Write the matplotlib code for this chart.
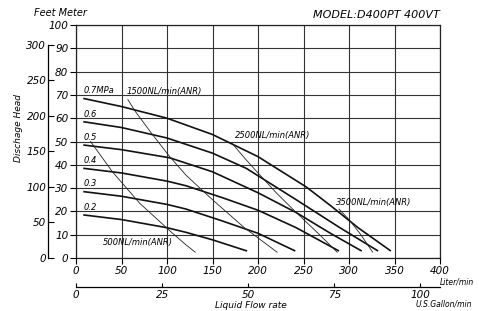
import numpy as np
import matplotlib
matplotlib.use('Agg')
import matplotlib.pyplot as plt

plt.rcParams['font.family'] = 'DejaVu Sans'
plt.rcParams['font.style'] = 'italic'

# air pressure curves: flow (L/min) vs discharge head (m)
p_labels = ['0.7MPa', '0.6', '0.5', '0.4', '0.3', '0.2']
p_label_y = [70.7, 60.7, 50.7, 40.7, 30.7, 20.7]
p_flow = [
    [8, 50, 100, 150, 200, 253, 279, 310, 346],
    [8, 50, 100, 150, 187, 242, 290, 332],
    [8, 50, 103, 150, 200, 242, 280, 314],
    [8, 50, 100, 121, 160, 200, 242, 289],
    [8, 50, 100, 121, 160, 200, 241],
    [8, 50, 100, 121, 150, 188],
]
p_head = [
    [68.5, 65, 60, 53, 43.5, 30.5, 22.7, 13, 3],
    [58.5, 56, 51.5, 45, 38.5, 25, 13, 3],
    [48.5, 46.5, 43, 37, 28, 19.5, 10.5, 3],
    [38.5, 36.5, 33, 31, 26, 20.5, 13, 3],
    [28.5, 26.5, 23, 21, 16, 10.6, 3],
    [18.5, 16.5, 13, 11, 7.8, 3],
]

# air consumption lines
nl_labels = ['500NL/min(ANR)', '1500NL/min(ANR)', '2500NL/min(ANR)', '3500NL/min(ANR)']
nl_label_pos = [(29.5, 5.6), (56, 70.5), (175, 51.5), (286, 22.7)]
nl_flow = [
    [16, 40, 70, 105, 121, 131],
    [57, 65, 83, 103, 121, 150, 185, 221],
    [172, 185, 200, 220, 242, 265, 287],
    [289, 300, 313, 326],
]
nl_head = [
    [50, 37, 23.5, 11, 5.6, 2.5],
    [68, 63, 53.5, 43.5, 35.5, 25, 13, 2.5],
    [49, 43, 36.5, 28, 19.5, 11, 2.5],
    [21, 16.5, 10, 2.5],
]

fig = plt.figure(figsize=(4.79, 3.11), dpi=100)
ax = fig.add_axes([76/479, 53/311, 364/479, 233/311])

for fx, hy in zip(p_flow, p_head):
    ax.plot(fx, hy, '-', color='#111111', lw=1.2, solid_capstyle='butt')
for fx, hy in zip(nl_flow, nl_head):
    ax.plot(fx, hy, '-', color='#222222', lw=0.6)

for lab, yy in zip(p_labels, p_label_y):
    ax.text(8, yy, lab, fontsize=6, va='baseline', ha='left')
for lab, (xx, yy) in zip(nl_labels, nl_label_pos):
    ax.text(xx, yy, lab, fontsize=6, va='baseline', ha='left')

ax.set_xlim(0, 400)
ax.set_ylim(0, 100)
ax.set_xticks(np.arange(0, 401, 50))
ax.set_yticks(np.arange(0, 101, 10))
ax.grid(True, color='#333333', lw=0.8)
ax.set_axisbelow(True)
for s in ax.spines.values():
    s.set_color('#222222')
    s.set_linewidth(0.9)
ax.tick_params(axis='y', direction='out', length=4.5, pad=1, labelsize=7.5)
ax.tick_params(axis='x', direction='out', length=4, pad=2, labelsize=7.5)

# feet scale on the left
feet = ax.secondary_yaxis(-0.0777, functions=(lambda m: m / 0.3048, lambda f: f * 0.3048))
feet.set_yticks(np.arange(0, 301, 50))
feet.tick_params(direction='in', length=4, pad=1, labelsize=7.5)
feet.spines['left'].set_bounds(0, 300)
feet.spines['left'].set_linewidth(0.9)

# US gallon scale at the bottom
gal = ax.secondary_xaxis(-0.1245, functions=(lambda l: l / 3.785, lambda g: g * 3.785))
gal.set_xticks([0, 25, 50, 75, 100])
gal.tick_params(direction='in', length=3, pad=2.5, labelsize=7.5)
gal.spines['bottom'].set_linewidth(0.9)

ax.text(-0.115, 1.051, 'Feet Meter', transform=ax.transAxes, fontsize=7, ha='left', va='center')
ax.text(1.0, 1.043, 'MODEL:D400PT 400VT', transform=ax.transAxes, fontsize=8, ha='right', va='center')
ax.text(-0.159, 0.56, 'Dischage Head', transform=ax.transAxes, fontsize=6.5, rotation=90, ha='center', va='center')
ax.text(1.0, -0.103, 'Liter/min', transform=ax.transAxes, fontsize=5.5, ha='left', va='center')
ax.text(0.934, -0.197, 'U.S.Gallon/min', transform=ax.transAxes, fontsize=5.5, ha='left', va='center')
ax.text(0.48, -0.202, 'Liquid Flow rate', transform=ax.transAxes, fontsize=6.5, ha='center', va='center')

fig.savefig('out.png', dpi=100)
